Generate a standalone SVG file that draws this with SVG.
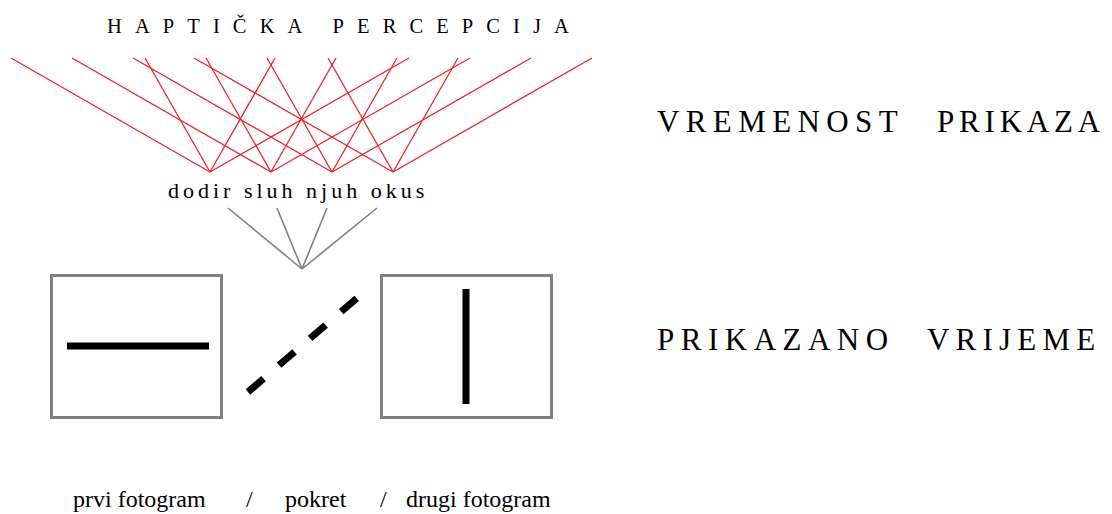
<svg xmlns="http://www.w3.org/2000/svg" width="1112" height="514" viewBox="0 0 1112 514">
<style>
.serif{font-family:"Liberation Serif","Times New Roman",serif;fill:#000}
.red line{stroke:#e8232a;stroke-width:1.3;fill:none}
.gray line{stroke:#808080;stroke-width:1.6;fill:none}
.frame{fill:#fff;stroke:#808080;stroke-width:3}
.bar{stroke:#000;stroke-width:7;fill:none}
</style>
<rect width="1112" height="514" fill="#fff"/>
<g id="title">
<text class="serif" x="107" y="33" font-size="20.5" letter-spacing="13.1">HAPTIČKA PERCEPCIJA</text>
</g>
<g id="connectors">
<g class="red">
<line x1="210" y1="172" x2="11" y2="58"/><line x1="210" y1="172" x2="145" y2="58"/><line x1="210" y1="172" x2="275" y2="58"/><line x1="210" y1="172" x2="409" y2="58"/>
<line x1="271" y1="172" x2="72" y2="58"/><line x1="271" y1="172" x2="206" y2="58"/><line x1="271" y1="172" x2="336" y2="58"/><line x1="271" y1="172" x2="470" y2="58"/>
<line x1="332" y1="172" x2="133" y2="58"/><line x1="332" y1="172" x2="267" y2="58"/><line x1="332" y1="172" x2="397" y2="58"/><line x1="332" y1="172" x2="531" y2="58"/>
<line x1="393" y1="172" x2="194" y2="58"/><line x1="393" y1="172" x2="328" y2="58"/><line x1="393" y1="172" x2="458" y2="58"/><line x1="393" y1="172" x2="592" y2="58"/>
</g>
<g class="gray">
<line x1="228" y1="208" x2="302" y2="269"/><line x1="277" y1="208" x2="302" y2="269"/><line x1="327" y1="208" x2="302" y2="269"/><line x1="377" y1="208" x2="302" y2="269"/>
</g>
</g>
<g id="senses">
<text class="serif" x="168" y="198" font-size="22" letter-spacing="4">dodir sluh njuh okus</text>
</g>
<g id="frame1">
<rect class="frame" x="51.5" y="275.5" width="170" height="142"/>
<line class="bar" x1="67" y1="346" x2="209" y2="346"/>
</g>
<g id="motion">
<line class="bar" x1="248" y1="392" x2="357" y2="298" stroke-dasharray="20.5 20.5"/>
</g>
<g id="frame2">
<rect class="frame" x="381.5" y="275.5" width="170" height="142"/>
<line class="bar" x1="466" y1="289" x2="466" y2="404"/>
</g>
<g id="right-labels">
<text class="serif" x="657" y="132" font-size="31" letter-spacing="6.4">VREMENOST</text>
<text class="serif" x="937" y="132" font-size="31" letter-spacing="4.8">PRIKAZA</text>
<text class="serif" x="657" y="350" font-size="31" letter-spacing="6.5">PRIKAZANO</text>
<text class="serif" x="927" y="350" font-size="31" letter-spacing="6.2">VRIJEME</text>
</g>
<g id="bottom-labels">
<text class="serif" x="73" y="507" font-size="24">prvi fotogram</text>
<text class="serif" x="246" y="507" font-size="24">/</text>
<text class="serif" x="285" y="507" font-size="24">pokret</text>
<text class="serif" x="380" y="507" font-size="24">/</text>
<text class="serif" x="406" y="507" font-size="24">drugi fotogram</text>
</g>
</svg>
